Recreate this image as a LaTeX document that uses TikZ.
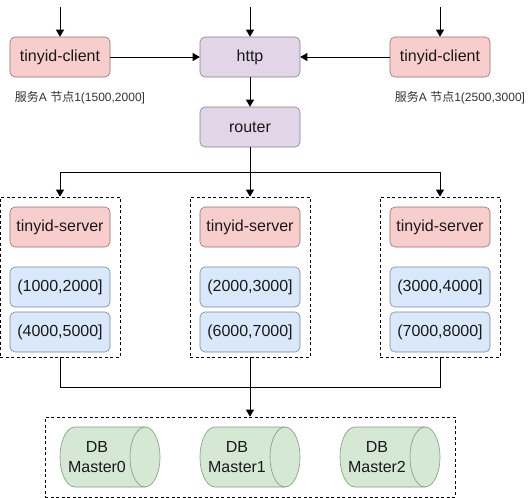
\documentclass[tikz,border=0pt]{standalone}
\usepackage{fontspec}
\setmainfont{Liberation Sans}
\newfontfamily\cjk{Noto Sans CJK SC}
\usetikzlibrary{arrows.meta}
\definecolor{redf}{HTML}{F8CECC}\definecolor{redd}{HTML}{9A6F6D}
\definecolor{purf}{HTML}{E1D5E7}\definecolor{purd}{HTML}{8A7A92}
\definecolor{bluf}{HTML}{DAE8FC}\definecolor{blud}{HTML}{7389A3}
\definecolor{grnf}{HTML}{D5E8D4}\definecolor{grnd}{HTML}{7F9C7C}
\tikzset{
 base/.style={draw,rounded corners=5pt,minimum width=100pt,minimum height=40pt,inner sep=0pt,font=\fontsize{16}{18}\selectfont,line width=.6pt,text=black!90},
 redbox/.style={base,fill=redf,draw=redd},
 purbox/.style={base,fill=purf,draw=purd},
 blubox/.style={base,fill=bluf,draw=blud},
 group/.style={draw,dash pattern=on 3pt off 2.5pt,line width=.7pt,minimum width=120pt,minimum height=160pt,inner sep=0pt},
 dbgroup/.style={draw,dash pattern=on 3pt off 2.5pt,line width=.7pt,minimum width=410pt,minimum height=80pt,inner sep=0pt},
 dbshape/.style={draw=grnd,fill=grnf,line width=.6pt},
 dbtext/.style={align=center,font=\fontsize{16}{19.5}\selectfont,text=black!90,inner sep=0pt},
 note/.style={font=\fontsize{12}{14}\selectfont,text=black!80,inner sep=0pt},
 conn/.style={draw=black,line width=.75pt,-{Triangle[length=7pt,width=8pt]}},
 plainconn/.style={draw=black,line width=.75pt},
}
\begin{document}
\begin{tikzpicture}[x=1pt,y=-1pt]
\useasboundingbox (0,0) rectangle (531,498);
\node[redbox] (c1) at (60,57) {tinyid-client};
\node[purbox] (http) at (250,57) {http};
\node[redbox] (c2) at (440,57) {tinyid-client};
\node[purbox] (router) at (250,127) {router};
\coordinate (t1) at (60,7);
\coordinate (t2) at (250,7);
\coordinate (t3) at (440,7);
\node[note] (n1) at (80,98) {{\cjk 服务}A {\cjk 节点}1(1500,2000]};
\node[note] (n2) at (460,98) {{\cjk 服务}A {\cjk 节点}1(2500,3000]};
\foreach \n/\x/\a/\b in {1/60/{(1000,2000]}/{(4000,5000]},2/250/{(2000,3000]}/{(6000,7000]},3/440/{(3000,4000]}/{(7000,8000]}}{
 \node[group] (g\n) at (\x,277) {};
 \node[redbox] (s\n) at (\x,227) {tinyid-server};
 \node[blubox] (ra\n) at (\x,287) {\a};
 \node[blubox] (rb\n) at (\x,332) {\b};
}
\node[dbgroup] (dbg) at (250,457) {};
\foreach \n/\x in {0/60,1/200,2/340}{
 \draw[dbshape] (\x+15,427) arc[start angle=90,end angle=270,x radius=15pt,y radius=30pt]
   -- (\x+85,487) arc[start angle=-90,end angle=90,x radius=15pt,y radius=30pt] -- cycle;
 \draw[dbshape,fill=none] (\x+85,427) arc[start angle=90,end angle=270,x radius=15pt,y radius=30pt];
 \node[dbtext] (dbt\n) at (\x+37,457) {DB\\Master\n};
}
\draw[conn] (t1) -- (c1);
\draw[conn] (t2) -- (http);
\draw[conn] (t3) -- (c2);
\draw[conn] (c1) -- (http);
\draw[conn] (c2) -- (http);
\draw[conn] (http) -- (router);
\draw[conn] (router) -- (g2);
\coordinate (j1) at (60,172);
\coordinate (j3) at (440,172);
\coordinate (k0) at (250,172);
\draw[conn] (k0) -- (j1) -- (g1);
\draw[conn] (k0) -- (j3) -- (g3);
\coordinate (m1) at (60,387);
\coordinate (m3) at (440,387);
\draw[plainconn] (g1) -- (m1) -- (m3) -- (g3);
\draw[conn] (g2) -- (dbg);
\end{tikzpicture}
\end{document}
